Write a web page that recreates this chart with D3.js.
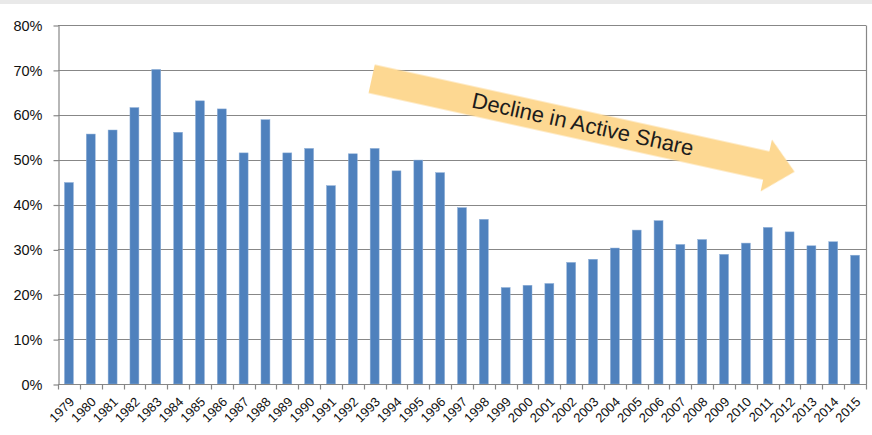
<!DOCTYPE html>
<html>
<head>
<meta charset="utf-8">
<script src="https://cdn.jsdelivr.net/npm/d3@7"></script>
<style>
  html, body { margin: 0; padding: 0; background: #ffffff; }
  svg { display: block; }
</style>
</head>
<body>
<div id="chart"></div>
<script>
// ---- data ----
const years = ["1979","1980","1981","1982","1983","1984","1985","1986","1987","1988",
  "1989","1990","1991","1992","1993","1994","1995","1996","1997","1998",
  "1999","2000","2001","2002","2003","2004","2005","2006","2007","2008",
  "2009","2010","2011","2012","2013","2014","2015"];
const activeShare = [44.9, 55.7, 56.6, 61.6, 70.1, 56.1, 63.1, 61.3, 51.5, 58.9,
  51.5, 52.5, 44.2, 51.3, 52.5, 47.5, 49.9, 47.1, 39.3, 36.7,
  21.5, 22.0, 22.4, 27.1, 27.8, 30.3, 34.3, 36.4, 31.1, 32.2,
  28.9, 31.4, 34.9, 33.9, 30.8, 31.7, 28.7];
const yTicks = [0, 10, 20, 30, 40, 50, 60, 70, 80];
const yTickLabels = ["0%","10%","20%","30%","40%","50%","60%","70%","80%"];
const annotationText = "Decline in Active Share";

// ---- layout ----
const W = 872, H = 435;
const plot = { left: 58, right: 866, top: 25, bottom: 384 };
const gridColor = "#878787";
const font = "'Liberation Sans', Arial, sans-serif";

const svg = d3.select("#chart").append("svg")
  .attr("width", W).attr("height", H);

// top grey band
svg.append("rect").attr("x", 0).attr("y", 0).attr("width", W).attr("height", 4)
  .attr("fill", "#e9e9e9");

const x = d3.scaleBand().domain(years).range([plot.left, plot.right])
  .paddingInner(0.59).paddingOuter(0.295);
const y = d3.scaleLinear().domain([0, 80]).range([plot.bottom, plot.top]);
const step = x.step();

// gridlines
svg.append("g").selectAll("line").data(yTicks.filter(d => d > 0)).join("line")
  .attr("x1", plot.left).attr("x2", plot.right)
  .attr("y1", d => Math.round(y(d)) + 0.5).attr("y2", d => Math.round(y(d)) + 0.5)
  .attr("stroke", gridColor).attr("stroke-width", 1.2);

// right border
svg.append("line")
  .attr("x1", plot.right + 0.5).attr("x2", plot.right + 0.5)
  .attr("y1", Math.round(y(80)) + 0.5).attr("y2", plot.bottom)
  .attr("stroke", gridColor).attr("stroke-width", 1.2);

// bars
svg.append("g").selectAll("rect").data(years).join("rect")
  .attr("x", d => x(d))
  .attr("width", x.bandwidth())
  .attr("y", (d, i) => y(activeShare[i]))
  .attr("height", (d, i) => y(0) - y(activeShare[i]))
  .attr("fill", "#4f81bd")
  .attr("stroke", "#8fb0d8").attr("stroke-width", 0.5);

// y axis
const yAxis = d3.axisLeft(y).tickValues(yTicks)
  .tickFormat((d, i) => yTickLabels[i]).tickSize(5).tickSizeOuter(0).tickPadding(11);
const gy = svg.append("g").attr("transform", `translate(${plot.left + 0.5},0.5)`).call(yAxis);
gy.select(".domain").attr("stroke", gridColor).attr("stroke-width", 1.2);
gy.selectAll(".tick line").attr("stroke", gridColor).attr("stroke-width", 1.2);
gy.selectAll(".tick text").attr("font-family", font).attr("font-size", 14.5)
  .attr("fill", "#111");

// x axis
const gx = svg.append("g").attr("transform", `translate(0,${plot.bottom + 0.5})`);
gx.append("line").attr("x1", plot.left).attr("x2", plot.right + 1)
  .attr("y1", 0).attr("y2", 0).attr("stroke", gridColor).attr("stroke-width", 1.2);
const boundaries = years.map(d => x(d) - (step - x.bandwidth()) / 2).concat([plot.right]);
gx.selectAll("line.tk").data(boundaries).join("line").attr("class", "tk")
  .attr("x1", d => Math.round(d) + 0.5).attr("x2", d => Math.round(d) + 0.5)
  .attr("y1", 0).attr("y2", 5).attr("stroke", gridColor).attr("stroke-width", 1.2);
gx.selectAll("text").data(years).join("text")
  .attr("transform", d => `translate(${x(d) + x.bandwidth() / 2 + 3},${15}) rotate(-45)`)
  .attr("text-anchor", "end")
  .attr("dy", "0.35em")
  .attr("font-family", font).attr("font-size", 13).attr("fill", "#111")
  .text(d => d);

// annotation arrow (positioned in data space)
const start = [x("1993") + x.bandwidth() / 2 - 3, y(68)];
const tip = [x("2012") + x.bandwidth() / 2 + 5, y(47.3)];
const dx = tip[0] - start[0], dy = tip[1] - start[1];
const len = Math.hypot(dx, dy);
const ang = Math.atan2(dy, dx) * 180 / Math.PI;
const shaftHalf = 14.5, headHalf = 26.5, headLen = 29;
const defs = svg.append("defs");
defs.append("filter").attr("id", "soft")
  .append("feGaussianBlur").attr("stdDeviation", 0.7);
const ga = svg.append("g").attr("transform", `translate(${start[0]},${start[1]}) rotate(${ang})`);
ga.append("polygon")
  .attr("points", [
    [0, -shaftHalf], [len - headLen, -shaftHalf], [len - headLen, -headHalf],
    [len, 0], [len - headLen, headHalf], [len - headLen, shaftHalf], [0, shaftHalf]
  ].map(p => p.join(",")).join(" "))
  .attr("fill", "#fdd892").attr("filter", "url(#soft)");
ga.append("text")
  .attr("x", 216).attr("y", -1)
  .attr("text-anchor", "middle").attr("dominant-baseline", "central")
  .attr("font-family", font).attr("font-size", 22).attr("fill", "#1c1c1c")
  .text(annotationText);
</script>
</body>
</html>
